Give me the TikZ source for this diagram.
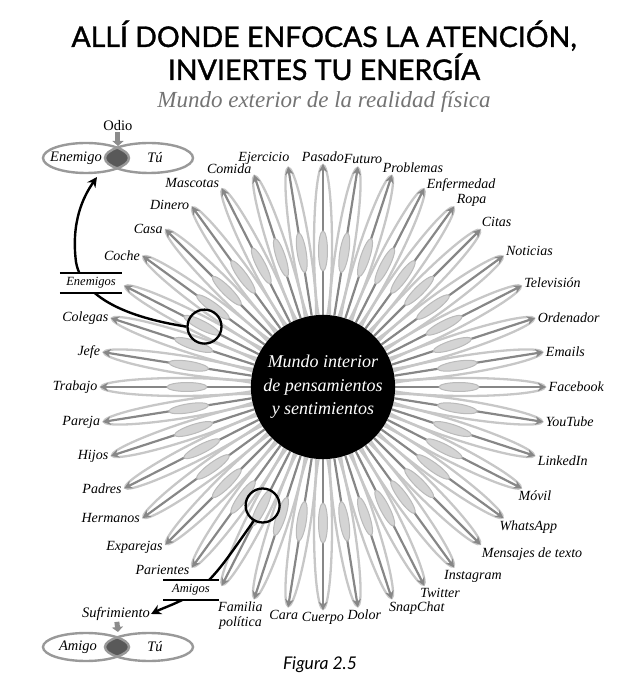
\documentclass[tikz,border=0pt]{standalone}
\usepackage{fontspec}
\setmainfont{Liberation Serif}
\newfontfamily\headfont{Lato}
\newfontfamily\titlefont[FakeBold=1.2]{Lato}
\usepackage{tikz}
\usetikzlibrary{%
  arrows.meta,
  positioning,
  backgrounds}
\tikzset{
  %% Petals round the inner world
  petalring/.style={draw=black!22, line width=2.3pt},
  petalblob/.style={draw=black!27, fill=black!17, line width=1pt},
  ray/.style={-{Stealth[length=8pt,width=8.5pt,inset=2.5pt]},
    line width=2.2pt, black!47},
  petallabel/.style={font=\fontsize{14}{14.5}\selectfont\itshape,
    inner sep=2.5pt, align=center},
  %% Callout circles and their arrows
  lens/.style={circle, draw=black, line width=2.3pt,
    minimum size=34pt, inner sep=0pt},
  callout/.style={-{Stealth[length=10pt,width=10pt]}, line width=2.4pt, black},
  tagbox/.style={fill=white, font=\fontsize{12.5}{13}\selectfont\itshape,
    inner sep=0pt, minimum height=20pt},
  tagrule/.style={line width=1.8pt, black},
  %% Venn pairs
  vennring/.style={draw=black!40, line width=2.4pt},
  vennmid/.style={fill=black!65},
  venntext/.style={font=\fontsize{14.5}{15}\selectfont\itshape, inner sep=1pt},
  vennarrow/.style={-{Triangle[length=5pt,width=11pt]}, line width=5pt, black!45},
}

\begin{document}
\begin{tikzpicture}[x=1pt, y=1pt]
  \useasboundingbox (-323,-298) rectangle (321,387);

  %% Titles
  \node[font=\titlefont\fontsize{28.5}{30}\selectfont, anchor=base] (titulo1)
        at (1,340) {ALLÍ DONDE ENFOCAS LA ATENCIÓN,};
  \node[font=\titlefont\fontsize{28.5}{30}\selectfont, anchor=base] (titulo2)
        at (1,307) {INVIERTES TU ENERGÍA};
  \node[font=\fontsize{23}{25}\selectfont\itshape, text=black!55, anchor=base]
        (subtitulo) at (1,279) {Mundo exterior de la realidad física};

  %% Inner world
  \node[circle, fill=black, minimum size=134pt, text=white, align=center,
        font=\fontsize{18}{23.5}\selectfont\itshape] (mundo) at (0,0)
        {Mundo interior\\de pensamientos\\y sentimientos};

  %% Petal tips
  \foreach \a in {0,9,...,351}
    \coordinate (t\a) at (\a:223);

  %% Petals
  \begin{scope}[on background layer]
    \foreach \a in {0,9,...,351}
      \draw[petalring, rotate=\a] (142,0) ellipse [x radius=80pt, y radius=9pt];
    \foreach \a in {0,9,...,351}
      \draw[ray] (mundo) -- (t\a);
    \foreach \a in {0,9,...,351}
      \draw[petalblob, rotate=\a] (136,0) ellipse [x radius=20pt, y radius=4.5pt];
  \end{scope}

  %% Petal labels (angle / text / anchor)
  \foreach \a/\t/\n in
    {0/Facebook/180, 9/Emails/180, 18/Ordenador/180, 27/Televisión/185,
     36/Noticias/190, 45/Citas/205, 54/Ropa/200, 63/Enfermedad/185,
     72/Problemas/200, 81/Futuro/235, 90/Pasado/270, 99/Ejercicio/340,
     108/Comida/345, 117/Mascotas/350, 126/Dinero/355, 135/Casa/0,
     144/Coche/0, 162/Colegas/0, 171/Jefe/0, 180/Trabajo/0,
     189/Pareja/0, 198/Hijos/0, 207/Padres/0, 216/Hermanos/0,
     225/Exparejas/5, 234/Parientes/5, 252/{Familia\\política}/50,
     261/Cara/60, 270/Cuerpo/90, 279/Dolor/130, 288/SnapChat/160,
     297/Twitter/155, 306/Instagram/155, 315/Mensajes de texto/170,
     324/WhatsApp/160, 333/Móvil/150, 342/LinkedIn/170, 351/YouTube/180}
    \node[petallabel, anchor=\n] (l\a) at (t\a) {\t};

  %% Top Venn pair
  \begin{scope}
    \clip (-237,229) ellipse [x radius=43pt, y radius=15pt];
    \fill[vennmid] (-174,229) ellipse [x radius=44pt, y radius=15pt];
  \end{scope}
  \draw[vennring] (-237,229) ellipse [x radius=43pt, y radius=15pt];
  \draw[vennring] (-174,229) ellipse [x radius=44pt, y radius=15pt];
  \node[venntext] (enemigo) at (-247,229) {Enemigo};
  \node[venntext] (tu1) at (-168,229) {Tú};
  \node[font=\fontsize{14.5}{15}\selectfont, inner sep=1pt] (odio) at (-205,261) {Odio};
  \coordinate (odiotip) at (-205,241);
  \draw[vennarrow] (odio) -- (odiotip);
  \coordinate (venntop) at (-226,210);

  %% Bottom Venn pair
  \begin{scope}
    \clip (-237,-260) ellipse [x radius=43pt, y radius=14pt];
    \fill[vennmid] (-174,-260) ellipse [x radius=44pt, y radius=14pt];
  \end{scope}
  \draw[vennring] (-237,-260) ellipse [x radius=43pt, y radius=14pt];
  \draw[vennring] (-174,-260) ellipse [x radius=44pt, y radius=14pt];
  \node[venntext] (amigo) at (-245,-260) {Amigo};
  \node[venntext] (tu2) at (-168,-260) {Tú};
  \node[venntext] (sufri) at (-207,-227) {Sufrimiento};
  \coordinate (sufritip) at (-205,-245);
  \draw[vennarrow] (sufri) -- (sufritip);

  %% Callout: enemies
  \node[lens] (lensE) at (153:133) {};
  \draw[callout] (lensE.west) .. controls (-185,68) and (-240,85) .. (-247,125)
        .. controls (-252,165) and (-240,190) .. (venntop);
  \node[tagbox, minimum width=62pt] (enemigos) at (-232,104) {Enemigos};
  \draw[tagrule] (enemigos.north west) -- (enemigos.north east);
  \draw[tagrule] (enemigos.south west) -- (enemigos.south east);

  %% Callout: friends
  \node[lens] (lensA) at (243:133) {};
  \draw[callout] (lensA.240) .. controls (-95,-170) and (-110,-195) .. (-135,-210)
        .. controls (-150,-218) and (-160,-221) .. (sufri.east);
  \node[tagbox, minimum width=55pt] (amigos) at (-132,-203) {Amigos};
  \draw[tagrule] (amigos.north west) -- (amigos.north east);
  \draw[tagrule] (amigos.south west) -- (amigos.south east);

  %% Caption
  \node[font=\headfont\itshape\fontsize{17.5}{18}\selectfont] (figura)
        at (-3,-278) {Figura 2.5};
\end{tikzpicture}
\end{document}
